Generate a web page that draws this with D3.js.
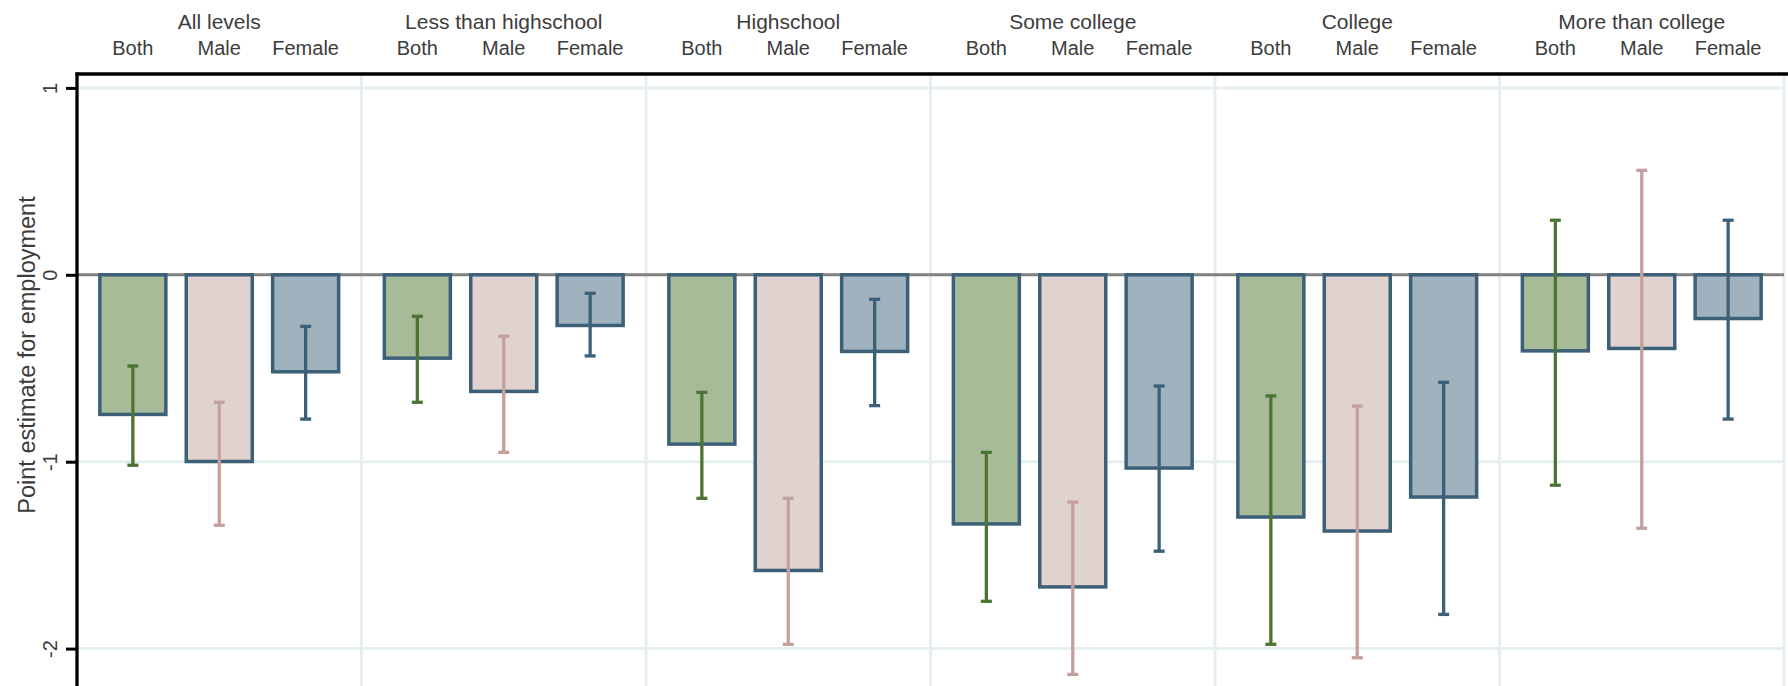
<!DOCTYPE html>
<html>
<head>
<meta charset="utf-8">
<script src="https://cdn.jsdelivr.net/npm/d3@7"></script>
<style>
  body { margin: 0; background: #ffffff; }
  text { font-family: "Liberation Sans", Arial, sans-serif; fill: #3c3c3c; }
</style>
</head>
<body>
<div id="container"></div>
<script>
let w = 1788;
let h = 686;

// data
let groups = ["All levels", "Less than highschool", "Highschool", "Some college", "College", "More than college"];
let series = ["Both", "Male", "Female"];

let both     = [-0.747, -0.446, -0.906, -1.333, -1.296, -0.407];
let bothLo   = [-1.019, -0.682, -1.196, -1.747, -1.977, -1.126];
let bothHi   = [-0.488, -0.222, -0.629, -0.950, -0.648,  0.292];

let male     = [-0.999, -0.624, -1.582, -1.670, -1.371, -0.394];
let maleLo   = [-1.340, -0.950, -1.977, -2.138, -2.049, -1.356];
let maleHi   = [-0.682, -0.329, -1.196, -1.216, -0.702,  0.559];

let female   = [-0.519, -0.271, -0.410, -1.034, -1.189, -0.234];
let femaleLo = [-0.772, -0.434, -0.700, -1.479, -1.817, -0.772];
let femaleHi = [-0.276, -0.099, -0.131, -0.595, -0.575,  0.292];

let yTicks = [1, 0, -1, -2];
let yTickLabels = ["1", "0", "-1", "-2"];
let yTitle = "Point estimate for employment";

let fills = ["#a8bb98", "#e0d2cf", "#9fb2bd"];
let ciColors = ["#4c7433", "#c4a09d", "#3d6079"];
let barStroke = "#3d6079";

// build rows for the library
let values = [both, male, female];
let los = [bothLo, maleLo, femaleLo];
let his = [bothHi, maleHi, femaleHi];
let rows = [];
groups.forEach(function(g, gi){
  series.forEach(function(s, si){
    rows.push({group: g, series: s, si: si, value: values[si][gi], lo: los[si][gi], hi: his[si][gi]});
  });
});

let plotLeft = 77, plotRight = 1784, plotTop = 74, plotBottom = 686;

let viz = d3.select("#container")
  .append("svg")
    .attr("width", w)
    .attr("height", h)
    .style("background-color", "#ffffff")
;

let xGroup = d3.scaleBand().domain(groups).range([plotLeft, plotRight]).padding(0);
let xSeries = d3.scaleBand().domain(series).range([0, xGroup.bandwidth()])
  .paddingInner(0.236).paddingOuter(0.2645);
let yScale = d3.scaleLinear().domain([1, -2]).range([87.9, 648.6]);

function barCenter(d){
  return xGroup(d.group) + xSeries(d.series) + xSeries.bandwidth() / 2;
}

// gridlines
viz.append("g").selectAll("line").data(yTicks.filter(function(t){ return t != 0; })).enter()
  .append("line")
    .attr("x1", plotLeft).attr("x2", plotRight)
    .attr("y1", function(d){ return yScale(d); })
    .attr("y2", function(d){ return yScale(d); })
    .attr("stroke", "#e6eff0")
    .attr("stroke-width", 3)
;

let boundaries = groups.map(function(g){ return xGroup(g) + xGroup.bandwidth(); });
viz.append("g").selectAll("line").data(boundaries).enter()
  .append("line")
    .attr("x1", function(d){ return d; })
    .attr("x2", function(d){ return d; })
    .attr("y1", plotTop).attr("y2", plotBottom)
    .attr("stroke", "#e6eff0")
    .attr("stroke-width", 3)
;

// zero line
viz.append("line")
  .attr("x1", plotLeft).attr("x2", plotRight)
  .attr("y1", yScale(0)).attr("y2", yScale(0))
  .attr("stroke", "#808080")
  .attr("stroke-width", 3)
;

// bars
viz.append("g").selectAll("rect").data(rows).enter()
  .append("rect")
    .attr("x", function(d){ return barCenter(d) - xSeries.bandwidth() / 2; })
    .attr("y", function(d){ return Math.min(yScale(0), yScale(d.value)); })
    .attr("width", xSeries.bandwidth())
    .attr("height", function(d){ return Math.abs(yScale(d.value) - yScale(0)); })
    .attr("fill", function(d){ return fills[d.si]; })
    .attr("stroke", barStroke)
    .attr("stroke-width", 3.5)
;

// confidence intervals
let caps = 5.5;
let ci = viz.append("g").selectAll("g").data(rows).enter().append("g")
  .attr("stroke", function(d){ return ciColors[d.si]; })
  .attr("stroke-width", 3.3);
ci.append("line")
  .attr("x1", barCenter).attr("x2", barCenter)
  .attr("y1", function(d){ return yScale(d.hi); })
  .attr("y2", function(d){ return yScale(d.lo); });
ci.append("line")
  .attr("x1", function(d){ return barCenter(d) - caps; })
  .attr("x2", function(d){ return barCenter(d) + caps; })
  .attr("y1", function(d){ return yScale(d.hi); })
  .attr("y2", function(d){ return yScale(d.hi); });
ci.append("line")
  .attr("x1", function(d){ return barCenter(d) - caps; })
  .attr("x2", function(d){ return barCenter(d) + caps; })
  .attr("y1", function(d){ return yScale(d.lo); })
  .attr("y2", function(d){ return yScale(d.lo); });

// y axis
let yAxis = d3.axisLeft(yScale)
  .tickValues(yTicks)
  .tickSize(11)
  .tickFormat(function(d, i){ return yTickLabels[i]; });
let yg = viz.append("g").attr("transform", "translate(" + plotLeft + ",0)").call(yAxis);
yg.select(".domain").remove();
yg.selectAll(".tick line").attr("stroke", "#000").attr("stroke-width", 3);
yg.selectAll(".tick text")
  .attr("x", null).attr("dy", null)
  .attr("transform", "translate(-20,0) rotate(-90)")
  .attr("text-anchor", "middle")
  .attr("fill", "#3c3c3c")
  .style("font-size", "20px")
  .style("font-family", "'Liberation Sans', Arial, sans-serif")
;

viz.append("line")
  .attr("x1", plotLeft).attr("x2", plotLeft)
  .attr("y1", plotTop - 1.5).attr("y2", plotBottom)
  .attr("stroke", "#000").attr("stroke-width", 3.3);
viz.append("line")
  .attr("x1", plotLeft - 1.5).attr("x2", plotRight + 4)
  .attr("y1", plotTop).attr("y2", plotTop)
  .attr("stroke", "#000").attr("stroke-width", 3.3);

viz.append("text")
  .attr("transform", "translate(35,355) rotate(-90)")
  .attr("text-anchor", "middle")
  .style("font-size", "23.5px")
  .text(yTitle);

// top labels
viz.append("g").selectAll("text").data(groups).enter()
  .append("text")
    .attr("x", function(d){ return xGroup(d) + xGroup.bandwidth() / 2; })
    .attr("y", 29)
    .attr("text-anchor", "middle")
    .style("font-size", "21px")
    .text(function(d){ return d; })
;

viz.append("g").selectAll("text").data(rows).enter()
  .append("text")
    .attr("x", barCenter)
    .attr("y", 55)
    .attr("text-anchor", "middle")
    .style("font-size", "20px")
    .text(function(d){ return d.series; })
;
</script>
</body>
</html>
